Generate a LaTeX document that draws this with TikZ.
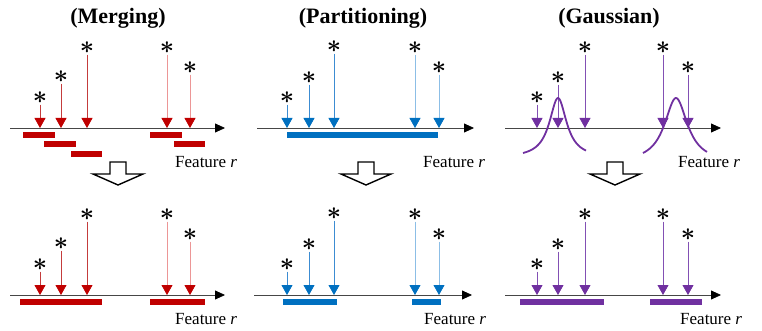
\documentclass[tikz,border=0pt]{standalone}
\usepackage{fontspec}
\setmainfont{Liberation Serif}
\usetikzlibrary{arrows.meta}

\definecolor{redbar}{RGB}{192,0,0}
\definecolor{redln}{RGB}{196,60,60}
\definecolor{redfade}{RGB}{236,150,150}
\definecolor{bluebar}{RGB}{0,112,192}
\definecolor{blueln}{RGB}{60,140,210}
\definecolor{bluefade}{RGB}{140,190,230}
\definecolor{purpbar}{RGB}{112,48,160}
\definecolor{purpln}{RGB}{130,80,180}
\definecolor{axisgray}{RGB}{70,70,70}

\begin{document}
\begin{tikzpicture}[x=1pt,y=-1pt,
  title/.style={font=\bfseries\fontsize{22}{22}\selectfont},
  featlabel/.style={font=\fontsize{17}{17}\selectfont, anchor=west, inner sep=0pt},
  starnode/.style={font=\fontsize{27}{27}\selectfont\boldmath, text=black, inner sep=0.6pt},
  stem/.style={line width=0.8pt},
  axisline/.style={axisgray, line width=0.8pt, -{Triangle[width=9pt,length=10pt,color=black]}},
  bar/.style={line width=5.5pt},
  gauss/.style={purpbar, line width=1.8pt},
  hollow/.style={draw=black, line width=1.4pt, fill=white, line join=miter}
]
\useasboundingbox (0,0) rectangle (762,331);

% ---------- titles ----------
\node[title] (tmerge) at (118,18) {(Merging)};
\node[title] (tpart) at (363,18) {(Partitioning)};
\node[title] (tgauss) at (609,18) {(Gaussian)};

% ---------- axes ----------
\foreach \nm/\xa/\xb/\yy in {ax1/10/225/128, ax2/257/474/128, ax3/505/721/128,
                             bx1/10/225/295, bx2/254/472/295, bx3/505/721/295} {
  \coordinate (\nm s) at (\xa,\yy);
  \coordinate (\nm e) at (\xb,\yy);
  \draw[axisline] (\nm s) -- (\nm e);
}

% ---------- feature labels ----------
\node[featlabel] (f1) at (175,162) {Feature \textit{r}};
\node[featlabel] (f2) at (423,162) {Feature \textit{r}};
\node[featlabel] (f3) at (678,162) {Feature \textit{r}};
\node[featlabel] (g1) at (175,319) {Feature \textit{r}};
\node[featlabel] (g2) at (424,319) {Feature \textit{r}};
\node[featlabel] (g3) at (680,319) {Feature \textit{r}};

% ---------- samples with downward arrows ----------
% panel / x / star height / line colour / tip colour
\foreach \p/\off in {a/0, b/167} {
  \foreach \i/\x/\y/\lc/\tc in {
      1/40/98/redln/redbar, 2/61/77/redln/redbar, 3/87/48/redln/redbar,
      4/167/48/redfade/redbar, 5/190/68/redfade/redbar,
      6/287/98/blueln/bluebar, 7/309/78/blueln/bluebar, 8/334/47/blueln/bluebar,
      9/415/48/bluefade/bluebar, 10/439/68/bluefade/bluebar,
      11/537/98/purpln/purpbar, 12/558/78/purpln/purpbar, 13/585/48/purpln/purpbar,
      14/663/48/purpln/purpbar, 15/688/68/purpln/purpbar} {
    \node[starnode] (s\p\i) at (\x,\y+\off) {$\ast$};
    \coordinate (t\p\i) at (\x,128+\off);
    \draw[stem, \lc, -{Triangle[width=11pt,length=10pt,color=\tc]}] (s\p\i) -- (t\p\i);
  }
}

% ---------- intervals: merging ----------
\draw[bar, redbar] (23,135) -- (55,135);
\draw[bar, redbar] (44,144) -- (76,144);
\draw[bar, redbar] (71,154) -- (102,154);
\draw[bar, redbar] (150,135) -- (182,135);
\draw[bar, redbar] (174,144) -- (205,144);
\draw[bar, redbar] (20,302) -- (102,302);
\draw[bar, redbar] (150,302) -- (205,302);

% ---------- intervals: partitioning ----------
\draw[bar, bluebar] (287,135) -- (438,135);
\draw[bar, bluebar] (283,302) -- (337,302);
\draw[bar, bluebar] (412,302) -- (441,302);

% ---------- gaussian kernels ----------
\draw[gauss] plot[domain=523:586, samples=90, smooth] (\x, {157.95 - 59.95/(1+((\x-558)/10.5)^2)});
\draw[gauss] plot[domain=643:707, samples=90, smooth] (\x, {162.9 - 64.9/(1+((\x-676)/14)^2)});
\draw[bar, purpbar] (520,302) -- (604,302);
\draw[bar, purpbar] (650,302) -- (702,302);

% ---------- hollow transition arrows ----------
\foreach \cx in {118, 366, 615} {
  \draw[hollow] (\cx-8,162) -- (\cx+8,162) -- (\cx+8,174) -- (\cx+25,174)
    -- (\cx,185) -- (\cx-25,174) -- (\cx-8,174) -- cycle;
}
\end{tikzpicture}
\end{document}
